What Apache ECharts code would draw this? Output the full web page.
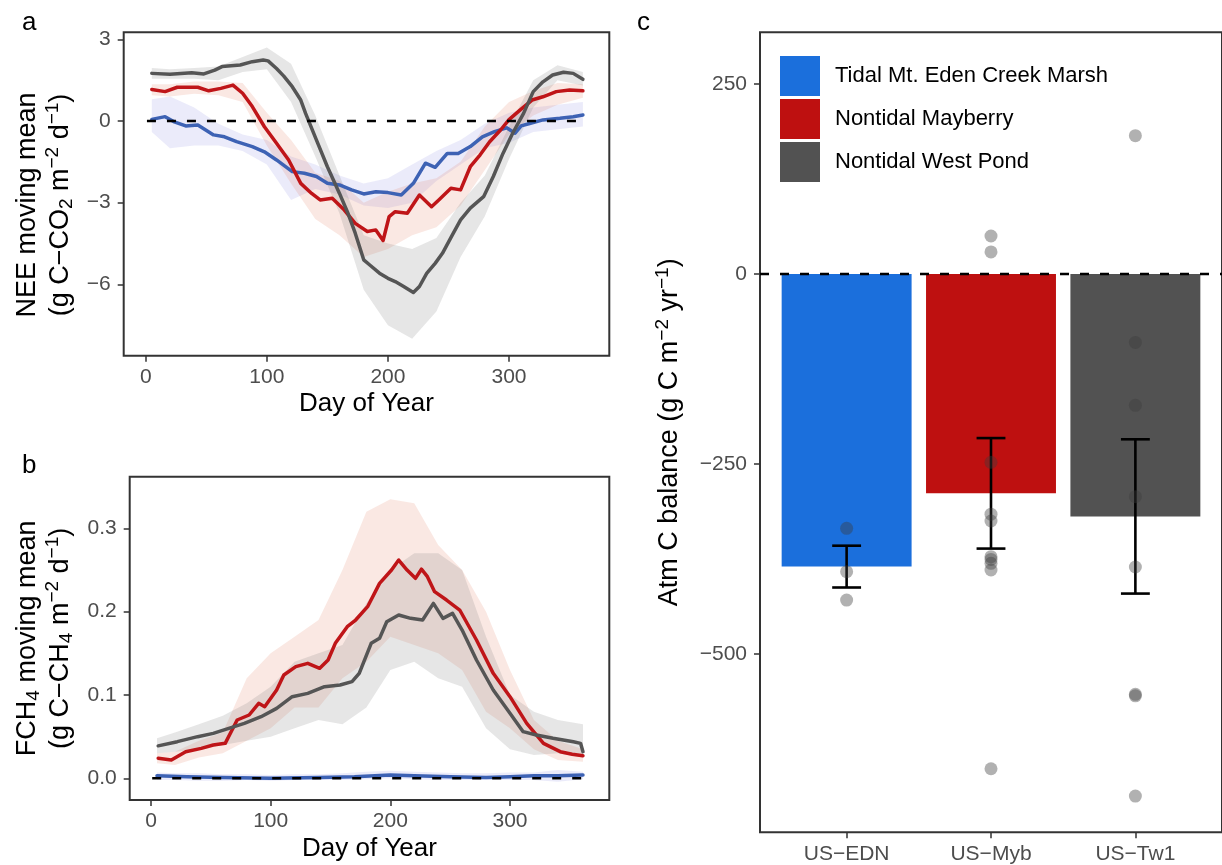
<!DOCTYPE html>
<html>
<head>
<meta charset="utf-8">
<script src="https://cdn.jsdelivr.net/npm/echarts@6/dist/echarts.min.js"></script>
<style>
  html, body { margin: 0; padding: 0; background: #fff; }
  #chart { width: 1222px; height: 865px; }
</style>
</head>
<body>
<div id="chart"></div>
<script>
// sites
const siteNames = ['Tidal Mt. Eden Creek Marsh', 'Nontidal Mayberry', 'Nontidal West Pond']
const siteCodes = ['US-EDN', 'US-Myb', 'US-Tw1']

// a: NEE moving mean
const neeBlueDays = [5, 16, 23, 33, 43, 56, 65, 75, 88, 98, 108, 121, 131, 141, 150, 160, 170, 180, 190, 200, 211, 221, 231, 239, 249, 258, 268, 278, 288, 298, 305, 310, 317, 328, 342, 353, 361]
const neeBlue = [0.06, 0.16, -0.02, -0.18, -0.15, -0.51, -0.58, -0.76, -0.94, -1.13, -1.43, -1.86, -1.92, -2.04, -2.29, -2.35, -2.53, -2.68, -2.6, -2.63, -2.72, -2.29, -1.55, -1.7, -1.19, -1.19, -0.94, -0.58, -0.39, -0.25, -0.45, -0.18, -0.09, 0.04, 0.1, 0.16, 0.22]
const neeRedDays = [5, 16, 26, 43, 52, 62, 72, 80, 88, 98, 108, 118, 128, 137, 144, 154, 164, 173, 183, 190, 196, 201, 206, 216, 226, 236, 242, 252, 260, 268, 276, 284, 293, 300, 309, 319, 328, 339, 350, 361]
const neeRed = [1.16, 1.08, 1.24, 1.24, 1.11, 1.2, 1.32, 1.02, 0.53, -0.21, -0.82, -1.43, -2.29, -2.66, -2.9, -2.84, -3.27, -3.76, -4.06, -4.0, -4.39, -3.51, -3.33, -3.39, -2.72, -3.15, -2.9, -2.47, -2.53, -1.68, -1.25, -0.76, -0.33, 0.05, 0.4, 0.77, 0.89, 1.08, 1.14, 1.11]
const neeGreyDays = [5, 20, 38, 48, 57, 63, 78, 88, 97, 101, 108, 114, 121, 128, 132, 141, 150, 160, 167, 173, 180, 185, 193, 200, 206, 213, 221, 226, 232, 239, 245, 253, 260, 268, 279, 287, 295, 303, 312, 320, 328, 336, 345, 353, 361]
const neeGrey = [1.75, 1.72, 1.77, 1.73, 1.87, 2.0, 2.06, 2.18, 2.24, 2.21, 1.93, 1.65, 1.26, 0.77, 0.28, -0.7, -1.68, -2.66, -3.39, -4.12, -5.1, -5.29, -5.59, -5.78, -5.9, -6.08, -6.3, -6.08, -5.6, -5.23, -4.86, -4.2, -3.63, -3.2, -2.78, -2.04, -1.19, -0.45, 0.28, 1.08, 1.44, 1.69, 1.79, 1.75, 1.53]

// ribbons (lower / upper), same days for every ribbon
const bandDays = [5, 20, 40, 60, 80, 100, 120, 140, 160, 180, 200, 220, 240, 260, 280, 300, 320, 340, 361]
const neeBlueLo = [-0.4, -1.0, -0.9, -0.9, -1.1, -1.6, -2.9, -2.5, -2.7, -3.1, -3.2, -3.0, -2.2, -1.6, -1.0, -0.8, -0.4, -0.3, -0.2]
const neeBlueHi = [0.8, 0.9, 0.5, -0.1, -0.5, -0.7, -1.3, -1.6, -2.0, -2.3, -2.1, -1.6, -1.1, -0.7, -0.1, 0.3, 0.5, 0.6, 0.7]
const neeRedLo = [0.95, 0.9, 1.0, 0.95, 0.7, -0.9, -2.3, -3.6, -4.2, -5.0, -4.7, -4.2, -3.9, -3.1, -1.8, -0.5, 0.2, 0.6, 0.85]
const neeRedHi = [1.35, 1.35, 1.45, 1.45, 1.4, 0.3, -0.7, -1.9, -2.2, -3.0, -2.6, -2.3, -2.1, -1.5, -0.2, 0.7, 1.1, 1.4, 1.35]
const neeGreyLo = [1.55, 1.55, 1.55, 1.5, 1.8, 1.9, 0.7, -1.3, -3.4, -6.2, -7.5, -8.0, -7.0, -5.0, -3.5, -1.4, 0.5, 1.5, 1.3]
const neeGreyHi = [1.95, 1.9, 1.95, 2.0, 2.35, 2.7, 2.1, 0.2, -2.0, -4.2, -4.5, -4.7, -4.3, -3.0, -2.0, -0.2, 1.5, 2.05, 1.8]

// b: FCH4 moving mean
const chBlueDays = [5, 30, 60, 100, 140, 170, 200, 220, 250, 280, 300, 320, 340, 361]
const chBlue = [0.003, 0.002, 0.001, 0.0, 0.001, 0.002, 0.004, 0.003, 0.002, 0.001, 0.002, 0.003, 0.003, 0.004]
const chRedDays = [6, 17, 29, 42, 52, 62, 72, 82, 90, 95, 105, 111, 121, 131, 141, 148, 154, 164, 171, 181, 191, 201, 207, 214, 221, 226, 231, 237, 247, 258, 272, 286, 300, 314, 328, 342, 352, 361]
const chRed = [0.024, 0.022, 0.032, 0.036, 0.04, 0.042, 0.07, 0.076, 0.09, 0.086, 0.106, 0.124, 0.134, 0.138, 0.132, 0.142, 0.162, 0.182, 0.19, 0.206, 0.234, 0.25, 0.262, 0.25, 0.24, 0.251, 0.242, 0.224, 0.214, 0.202, 0.166, 0.126, 0.098, 0.066, 0.042, 0.032, 0.029, 0.027]
const chGreyDays = [6, 22, 39, 52, 65, 78, 92, 105, 118, 131, 145, 158, 168, 174, 184, 191, 197, 207, 217, 227, 236, 244, 252, 260, 272, 286, 300, 311, 322, 336, 353, 359, 361]
const chGrey = [0.039, 0.044, 0.05, 0.054, 0.06, 0.066, 0.074, 0.084, 0.098, 0.102, 0.11, 0.112, 0.116, 0.126, 0.162, 0.168, 0.188, 0.196, 0.192, 0.19, 0.21, 0.192, 0.198, 0.178, 0.142, 0.106, 0.078, 0.056, 0.052, 0.048, 0.044, 0.042, 0.032]
const chBlueLo = [-0.002, -0.002, -0.003, -0.003, -0.002, -0.003, -0.002, -0.002, -0.002, -0.001, 0.0, -0.001, -0.002, -0.002, -0.002, -0.002, -0.002, -0.004, -0.001]
const chBlueHi = [0.007, 0.006, 0.006, 0.005, 0.005, 0.004, 0.005, 0.005, 0.006, 0.008, 0.009, 0.008, 0.007, 0.006, 0.006, 0.007, 0.007, 0.01, 0.008]
const chRedLo = [0.018, 0.016, 0.025, 0.03, 0.045, 0.06, 0.085, 0.085, 0.12, 0.14, 0.17, 0.16, 0.15, 0.13, 0.08, 0.06, 0.035, 0.022, 0.02]
const chRedHi = [0.03, 0.032, 0.045, 0.055, 0.12, 0.15, 0.17, 0.19, 0.25, 0.32, 0.335, 0.33, 0.28, 0.25, 0.2, 0.13, 0.07, 0.045, 0.035]
const chGreyLo = [0.03, 0.032, 0.035, 0.04, 0.045, 0.05, 0.06, 0.07, 0.065, 0.085, 0.13, 0.14, 0.12, 0.11, 0.06, 0.035, 0.028, 0.03, 0.025]
const chGreyHi = [0.048, 0.055, 0.065, 0.075, 0.09, 0.11, 0.14, 0.15, 0.16, 0.21, 0.25, 0.27, 0.27, 0.25, 0.17, 0.1, 0.08, 0.07, 0.065]

// c: annual atmospheric C balance
const balanceMean = [-385, -288.6, -319]
const balanceSe = [27.5, 72.7, 101.5]
const yearsEDN = [-334.6, -391.7, -429]
const yearsMyb = [50, 29, -247.8, -316, -325, -372, -375.5, -380.7, -389.5, -651]
const yearsTw1 = [182, -90, -172.8, -293, -385.5, -553, -555, -687]

// tick labels
const doyTicks = [0, 100, 200, 300]
const neeTicks = [-6, -3, 0, 3]
const chTicks = [0, 0.1, 0.2, 0.3]
const balTicks = [-500, -250, 0, 250]

const FONT = 'Liberation Sans, Arial, sans-serif'
const lineColors = ['#3d62b4', '#bf1518', '#555555']
const bandColors = ['rgba(120,120,220,0.15)', 'rgba(230,130,100,0.18)', 'rgba(128,128,128,0.2)']
const barColors = ['#1b6fdc', '#be1010', '#525252']

const pairs = (xs, ys) => xs.map((x, i) => [x, ys[i]])

function band(gridIdx, lo, hi, color) {
  return {
    type: 'custom', xAxisIndex: gridIdx, yAxisIndex: gridIdx, clip: true, silent: true,
    data: bandDays.map((d, i) => [d, lo[i], hi[i]]),
    encode: { x: 0, y: [1, 2] },
    renderItem(params, api) {
      if (params.dataIndex !== 0) return null
      const pts = []
      bandDays.forEach((d, i) => pts.push(api.coord([d, hi[i]])))
      for (let i = bandDays.length - 1; i >= 0; i--) pts.push(api.coord([bandDays[i], lo[i]]))
      return { type: 'polygon', shape: { points: pts }, style: { fill: color } }
    },
  }
}

function line(gridIdx, xs, ys, color) {
  return {
    type: 'line', xAxisIndex: gridIdx, yAxisIndex: gridIdx, data: pairs(xs, ys),
    showSymbol: false, silent: true,
    lineStyle: { color, width: 3.5, cap: 'round', join: 'round' },
  }
}

function zeroLine(gridIdx) {
  return {
    type: 'line', xAxisIndex: gridIdx, yAxisIndex: gridIdx, data: [[1, 0], [362, 0]],
    showSymbol: false, silent: true,
    lineStyle: { color: '#000', width: 2.5, type: [9, 11] },
  }
}

const tickStyle = { show: true, length: 6, lineStyle: { color: '#333', width: 1.5 } }
const labelStyle = { color: '#4d4d4d', fontSize: 21, fontFamily: FONT, lineHeight: 21 }
const richName = {
  t: { fontSize: 27, lineHeight: 33, color: '#000', fontFamily: FONT },
  sub: { fontSize: 19, lineHeight: 19, color: '#000', fontFamily: FONT, verticalAlign: 'bottom' },
  sup: { fontSize: 19, lineHeight: 19, color: '#000', fontFamily: FONT, verticalAlign: 'top' },
}

function doyAxis(gridIdx, min, max, gap) {
  return {
    type: 'value', gridIndex: gridIdx, min, max,
    axisLine: { show: false, onZero: false }, splitLine: { show: false },
    axisTick: Object.assign({ customValues: doyTicks }, tickStyle),
    axisLabel: Object.assign({ customValues: doyTicks, margin: 11 }, labelStyle),
    name: 'Day of Year', nameLocation: 'middle', nameGap: gap,
    nameTextStyle: { fontSize: 26, lineHeight: 30, color: '#000', fontFamily: FONT },
  }
}

function valueAxis(gridIdx, min, max, ticks, fmt, name, gap, pad) {
  return {
    type: 'value', gridIndex: gridIdx, min, max,
    axisLine: { show: false, onZero: false }, splitLine: { show: false },
    axisTick: Object.assign({ customValues: ticks }, tickStyle),
    axisLabel: Object.assign({ customValues: ticks, margin: 13, formatter: fmt }, labelStyle),
    name, nameLocation: 'middle', nameRotate: 90, nameGap: gap,
    nameTextStyle: { rich: richName, padding: pad || 0 },
  }
}

const minus = v => String(v).replace('-', '\u2212')
const gridStyle = { show: true, borderColor: '#333', borderWidth: 2, backgroundColor: 'transparent' }
const letterStyle = { fontSize: 26, fontWeight: 'normal', color: '#000', fontFamily: FONT, lineHeight: 26 }

const pointData = []
;[yearsEDN, yearsMyb, yearsTw1].forEach((arr, i) => arr.forEach(v => pointData.push([i + 1, v])))

const option = {
  animation: false,
  backgroundColor: '#fff',
  title: [
    { text: 'a', left: 22, top: 10, padding: 0, textStyle: letterStyle },
    { text: 'b', left: 22, top: 453, padding: 0, textStyle: letterStyle },
    { text: 'c', left: 637, top: 10, padding: 0, textStyle: letterStyle },
  ],
  legend: {
    data: siteNames, orient: 'vertical', left: 780, top: 56, padding: 0,
    itemWidth: 40, itemHeight: 40, itemGap: 3, icon: 'rect', selectedMode: false,
    textStyle: { fontSize: 22, color: '#000', fontFamily: FONT, padding: [0, 0, 0, 10] },
  },
  grid: [
    Object.assign({ left: 123.7, top: 32.3, width: 485.6, height: 323.4 }, gridStyle),
    Object.assign({ left: 129.7, top: 476.7, width: 479.6, height: 323.3 }, gridStyle),
    Object.assign({ left: 760, top: 32.3, right: 0, height: 800 }, gridStyle),
  ],
  xAxis: [
    doyAxis(0, -18.2, 382.8, 32),
    doyAxis(1, -17.8, 383, 34),
    {
      type: 'value', gridIndex: 2, min: 0.4, max: 3.6,
      axisLine: { show: false, onZero: false }, splitLine: { show: false },
      axisTick: Object.assign({ customValues: [1, 2, 3] }, tickStyle),
      axisLabel: Object.assign({ customValues: [1, 2, 3], margin: 11, formatter: v => siteCodes[Math.round(v) - 1].replace('-', '\u2212') }, labelStyle),
    },
  ],
  yAxis: [
    valueAxis(0, -8.622, 3.259, neeTicks, minus,
      '{t|NEE moving mean}\n{t|(g C\u2212CO}{sub|2}{t| m}{sup|\u22122}{t| d}{sup|\u22121}{t|)}', 47, [0, 22, 0, 0]),
    valueAxis(1, -0.026, 0.362, chTicks, v => v.toFixed(1),
      '{t|FCH}{sub|4}{t| moving mean}\n{t|(g C\u2212CH}{sub|4}{t| m}{sup|\u22122}{t| d}{sup|\u22121}{t|)}', 53),
    valueAxis(2, -734.6, 318, balTicks, minus,
      '{t|Atm C balance (g C m}{sup|\u22122}{t| yr}{sup|\u22121}{t|)}', 74),
  ],
  series: [
    band(0, neeBlueLo, neeBlueHi, bandColors[0]),
    band(0, neeRedLo, neeRedHi, bandColors[1]),
    band(0, neeGreyLo, neeGreyHi, bandColors[2]),
    line(0, neeBlueDays, neeBlue, lineColors[0]),
    line(0, neeRedDays, neeRed, lineColors[1]),
    line(0, neeGreyDays, neeGrey, lineColors[2]),
    zeroLine(0),

    band(1, chBlueLo, chBlueHi, bandColors[0]),
    band(1, chRedLo, chRedHi, bandColors[1]),
    band(1, chGreyLo, chGreyHi, bandColors[2]),
    line(1, chBlueDays, chBlue, lineColors[0]),
    line(1, chRedDays, chRed, lineColors[1]),
    line(1, chGreyDays, chGrey, lineColors[2]),
    zeroLine(1),

    // c: one bar series per site so the legend picks them up
    ...siteNames.map((name, i) => ({
      name, type: 'custom', xAxisIndex: 2, yAxisIndex: 2, silent: true,
      itemStyle: { color: barColors[i] },
      data: [[i + 1, balanceMean[i]]],
      encode: { x: 0, y: 1 },
      renderItem(params, api) {
        const p0 = api.coord([api.value(0) - 0.45, 0])
        const p1 = api.coord([api.value(0) + 0.45, api.value(1)])
        return { type: 'rect', shape: { x: p0[0], y: p0[1], width: p1[0] - p0[0], height: p1[1] - p0[1] }, style: { fill: barColors[i] } }
      },
    })),
    {
      type: 'scatter', xAxisIndex: 2, yAxisIndex: 2, silent: true,
      data: pointData, symbolSize: 13,
      itemStyle: { color: 'rgba(60,60,60,0.5)' },
    },
    {
      type: 'custom', xAxisIndex: 2, yAxisIndex: 2, silent: true,
      data: balanceMean.map((m, i) => [i + 1, m - balanceSe[i], m + balanceSe[i]]),
      encode: { x: 0, y: [1, 2] },
      renderItem(params, api) {
        const x = api.value(0)
        const lo = api.coord([x, api.value(1)])
        const hi = api.coord([x, api.value(2)])
        const capL = api.coord([x - 0.1, api.value(1)])[0]
        const capR = api.coord([x + 0.1, api.value(1)])[0]
        const st = { stroke: '#000', lineWidth: 2.6 }
        return {
          type: 'group', children: [
            { type: 'line', shape: { x1: lo[0], y1: lo[1], x2: hi[0], y2: hi[1] }, style: st },
            { type: 'line', shape: { x1: capL, y1: lo[1], x2: capR, y2: lo[1] }, style: st },
            { type: 'line', shape: { x1: capL, y1: hi[1], x2: capR, y2: hi[1] }, style: st },
          ],
        }
      },
    },
    {
      type: 'line', xAxisIndex: 2, yAxisIndex: 2, data: [[0.4, 0], [3.6, 0]],
      showSymbol: false, silent: true,
      lineStyle: { color: '#000', width: 2.5, type: [9, 11] },
    },
  ],
}

const chart = echarts.init(document.getElementById('chart'), null, { renderer: 'canvas' })
chart.setOption(option)
</script>
</body>
</html>
